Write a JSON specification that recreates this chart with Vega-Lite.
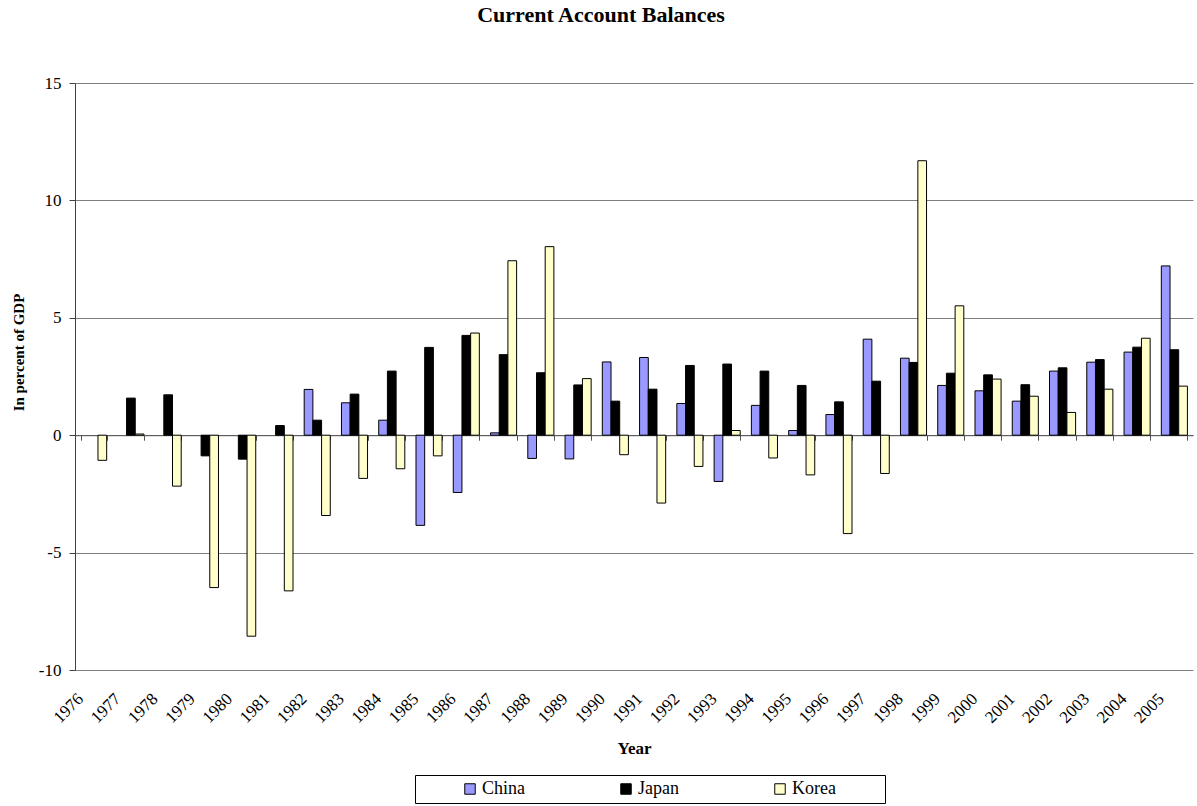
{
  "$schema": "https://vega.github.io/schema/vega-lite/v6.json",
  "autosize": {"type": "none"},
  "width": 1118,
  "height": 587,
  "padding": {"left": 75, "top": 83, "right": 4, "bottom": 136},
  "background": "white",
  "title": {
    "text": "Current Account Balances",
    "font": "Liberation Serif",
    "fontSize": 22,
    "fontWeight": "bold",
    "color": "black",
    "anchor": "middle",
    "frame": "group",
    "baseline": "alphabetic",
    "offset": 30,
    "dx": -33
  },
  "config": {
    "view": {"stroke": null},
    "font": "Liberation Serif"
  },
  "data": {
    "values": [
      {"year": "1976", "country": "Korea", "value": -1.07},
      {"year": "1977", "country": "Japan", "value": 1.58},
      {"year": "1977", "country": "Korea", "value": 0.05},
      {"year": "1978", "country": "Japan", "value": 1.72},
      {"year": "1978", "country": "Korea", "value": -2.17},
      {"year": "1979", "country": "Japan", "value": -0.88},
      {"year": "1979", "country": "Korea", "value": -6.49},
      {"year": "1980", "country": "Japan", "value": -1.02},
      {"year": "1980", "country": "Korea", "value": -8.56},
      {"year": "1981", "country": "Japan", "value": 0.41},
      {"year": "1981", "country": "Korea", "value": -6.63},
      {"year": "1982", "country": "China", "value": 1.95},
      {"year": "1982", "country": "Japan", "value": 0.64},
      {"year": "1982", "country": "Korea", "value": -3.42},
      {"year": "1983", "country": "China", "value": 1.38},
      {"year": "1983", "country": "Japan", "value": 1.75},
      {"year": "1983", "country": "Korea", "value": -1.84},
      {"year": "1984", "country": "China", "value": 0.64},
      {"year": "1984", "country": "Japan", "value": 2.73},
      {"year": "1984", "country": "Korea", "value": -1.43},
      {"year": "1985", "country": "China", "value": -3.84},
      {"year": "1985", "country": "Japan", "value": 3.74},
      {"year": "1985", "country": "Korea", "value": -0.88},
      {"year": "1986", "country": "China", "value": -2.44},
      {"year": "1986", "country": "Japan", "value": 4.25},
      {"year": "1986", "country": "Korea", "value": 4.35},
      {"year": "1987", "country": "China", "value": 0.1},
      {"year": "1987", "country": "Japan", "value": 3.43},
      {"year": "1987", "country": "Korea", "value": 7.43},
      {"year": "1988", "country": "China", "value": -0.99},
      {"year": "1988", "country": "Japan", "value": 2.66},
      {"year": "1988", "country": "Korea", "value": 8.03},
      {"year": "1989", "country": "China", "value": -1.01},
      {"year": "1989", "country": "Japan", "value": 2.14},
      {"year": "1989", "country": "Korea", "value": 2.41},
      {"year": "1990", "country": "China", "value": 3.12},
      {"year": "1990", "country": "Japan", "value": 1.45},
      {"year": "1990", "country": "Korea", "value": -0.83},
      {"year": "1991", "country": "China", "value": 3.31},
      {"year": "1991", "country": "Japan", "value": 1.96},
      {"year": "1991", "country": "Korea", "value": -2.89},
      {"year": "1992", "country": "China", "value": 1.35},
      {"year": "1992", "country": "Japan", "value": 2.97},
      {"year": "1992", "country": "Korea", "value": -1.33},
      {"year": "1993", "country": "China", "value": -1.97},
      {"year": "1993", "country": "Japan", "value": 3.03},
      {"year": "1993", "country": "Korea", "value": 0.2},
      {"year": "1994", "country": "China", "value": 1.27},
      {"year": "1994", "country": "Japan", "value": 2.73},
      {"year": "1994", "country": "Korea", "value": -0.97},
      {"year": "1995", "country": "China", "value": 0.2},
      {"year": "1995", "country": "Japan", "value": 2.12},
      {"year": "1995", "country": "Korea", "value": -1.69},
      {"year": "1996", "country": "China", "value": 0.88},
      {"year": "1996", "country": "Japan", "value": 1.42},
      {"year": "1996", "country": "Korea", "value": -4.19},
      {"year": "1997", "country": "China", "value": 4.09},
      {"year": "1997", "country": "Japan", "value": 2.3},
      {"year": "1997", "country": "Korea", "value": -1.63},
      {"year": "1998", "country": "China", "value": 3.28},
      {"year": "1998", "country": "Japan", "value": 3.1},
      {"year": "1998", "country": "Korea", "value": 11.69},
      {"year": "1999", "country": "China", "value": 2.12},
      {"year": "1999", "country": "Japan", "value": 2.64},
      {"year": "1999", "country": "Korea", "value": 5.51},
      {"year": "2000", "country": "China", "value": 1.89},
      {"year": "2000", "country": "Japan", "value": 2.57},
      {"year": "2000", "country": "Korea", "value": 2.39},
      {"year": "2001", "country": "China", "value": 1.45},
      {"year": "2001", "country": "Japan", "value": 2.15},
      {"year": "2001", "country": "Korea", "value": 1.66},
      {"year": "2002", "country": "China", "value": 2.73},
      {"year": "2002", "country": "Japan", "value": 2.87},
      {"year": "2002", "country": "Korea", "value": 0.97},
      {"year": "2003", "country": "China", "value": 3.11},
      {"year": "2003", "country": "Japan", "value": 3.22},
      {"year": "2003", "country": "Korea", "value": 1.96},
      {"year": "2004", "country": "China", "value": 3.54},
      {"year": "2004", "country": "Japan", "value": 3.75},
      {"year": "2004", "country": "Korea", "value": 4.13},
      {"year": "2005", "country": "China", "value": 7.21},
      {"year": "2005", "country": "Japan", "value": 3.64},
      {"year": "2005", "country": "Korea", "value": 2.09}
    ]
  },
  "resolve": {"axis": {"x": "independent"}},
  "layer": [
    {
      "mark": {"type": "bar", "stroke": "black", "strokeWidth": 1},
      "encoding": {
        "x": {
          "field": "year",
          "type": "ordinal",
          "scale": {"paddingInner": 0.3, "paddingOuter": 0.15},
          "axis": {
            "orient": "bottom",
            "offset": -234.8,
            "labels": false,
            "title": null,
            "grid": false,
            "ticks": true,
            "tickBand": "extent",
            "tickSize": 5,
            "tickColor": "#555555",
            "domain": true,
            "domainColor": "#555555"
          }
        },
        "xOffset": {
          "field": "country",
          "type": "nominal",
          "scale": {"domain": ["China", "Japan", "Korea"]}
        },
        "y": {
          "field": "value",
          "type": "quantitative",
          "scale": {"domain": [-10, 15], "nice": false, "zero": false},
          "axis": {
            "values": [-10, -5, 0, 5, 10, 15],
            "labelExpr": "datum.value < 0 ? '-' + abs(datum.value) : datum.label",
            "grid": true,
            "gridColor": "#7f7f7f",
            "gridWidth": 1,
            "domain": true,
            "domainColor": "#404040",
            "tickColor": "#404040",
            "tickSize": 6,
            "labelPadding": 8,
            "labelFont": "Liberation Serif",
            "labelFontSize": 17,
            "labelColor": "black",
            "title": "In percent of GDP",
            "titleFont": "Liberation Serif",
            "titleFontSize": 15,
            "titleFontWeight": "bold",
            "titleColor": "black",
            "titleAngle": -90,
            "titleAlign": "center",
            "titleBaseline": "middle",
            "titleX": -57,
            "titleY": 269
          }
        },
        "color": {
          "field": "country",
          "type": "nominal",
          "scale": {"domain": ["China", "Japan", "Korea"], "range": ["#9999FF", "#000000", "#FFFFCC"]},
          "legend": {
            "orient": "none",
            "legendX": 340,
            "legendY": 692,
            "direction": "horizontal",
            "title": " ",
            "titleOrient": "right",
            "titlePadding": 44,
            "strokeColor": "black",
            "fillColor": "white",
            "padding": 5,
            "columnPadding": 51,
            "symbolType": "square",
            "symbolSize": 110,
            "symbolOffset": 41,
            "symbolStrokeColor": "black",
            "symbolStrokeWidth": 1,
            "labelFont": "Liberation Serif",
            "labelFontSize": 18,
            "labelColor": "black",
            "labelOffset": 3
          }
        }
      }
    },
    {
      "mark": {"type": "point", "opacity": 0},
      "encoding": {
        "x": {
          "field": "year",
          "type": "ordinal",
          "axis": {
            "orient": "bottom",
            "labelAngle": -45,
            "labelAlign": "right",
            "labelBaseline": "middle",
            "labelPadding": 26,
            "labelOffset": -13,
            "labelFont": "Liberation Serif",
            "labelFontSize": 17,
            "labelColor": "black",
            "ticks": false,
            "domain": false,
            "grid": false,
            "title": "Year",
            "titleFont": "Liberation Serif",
            "titleFontSize": 17,
            "titleFontWeight": "bold",
            "titleColor": "black",
            "titlePadding": 15
          }
        },
        "y": {"datum": 0}
      }
    }
  ]
}
